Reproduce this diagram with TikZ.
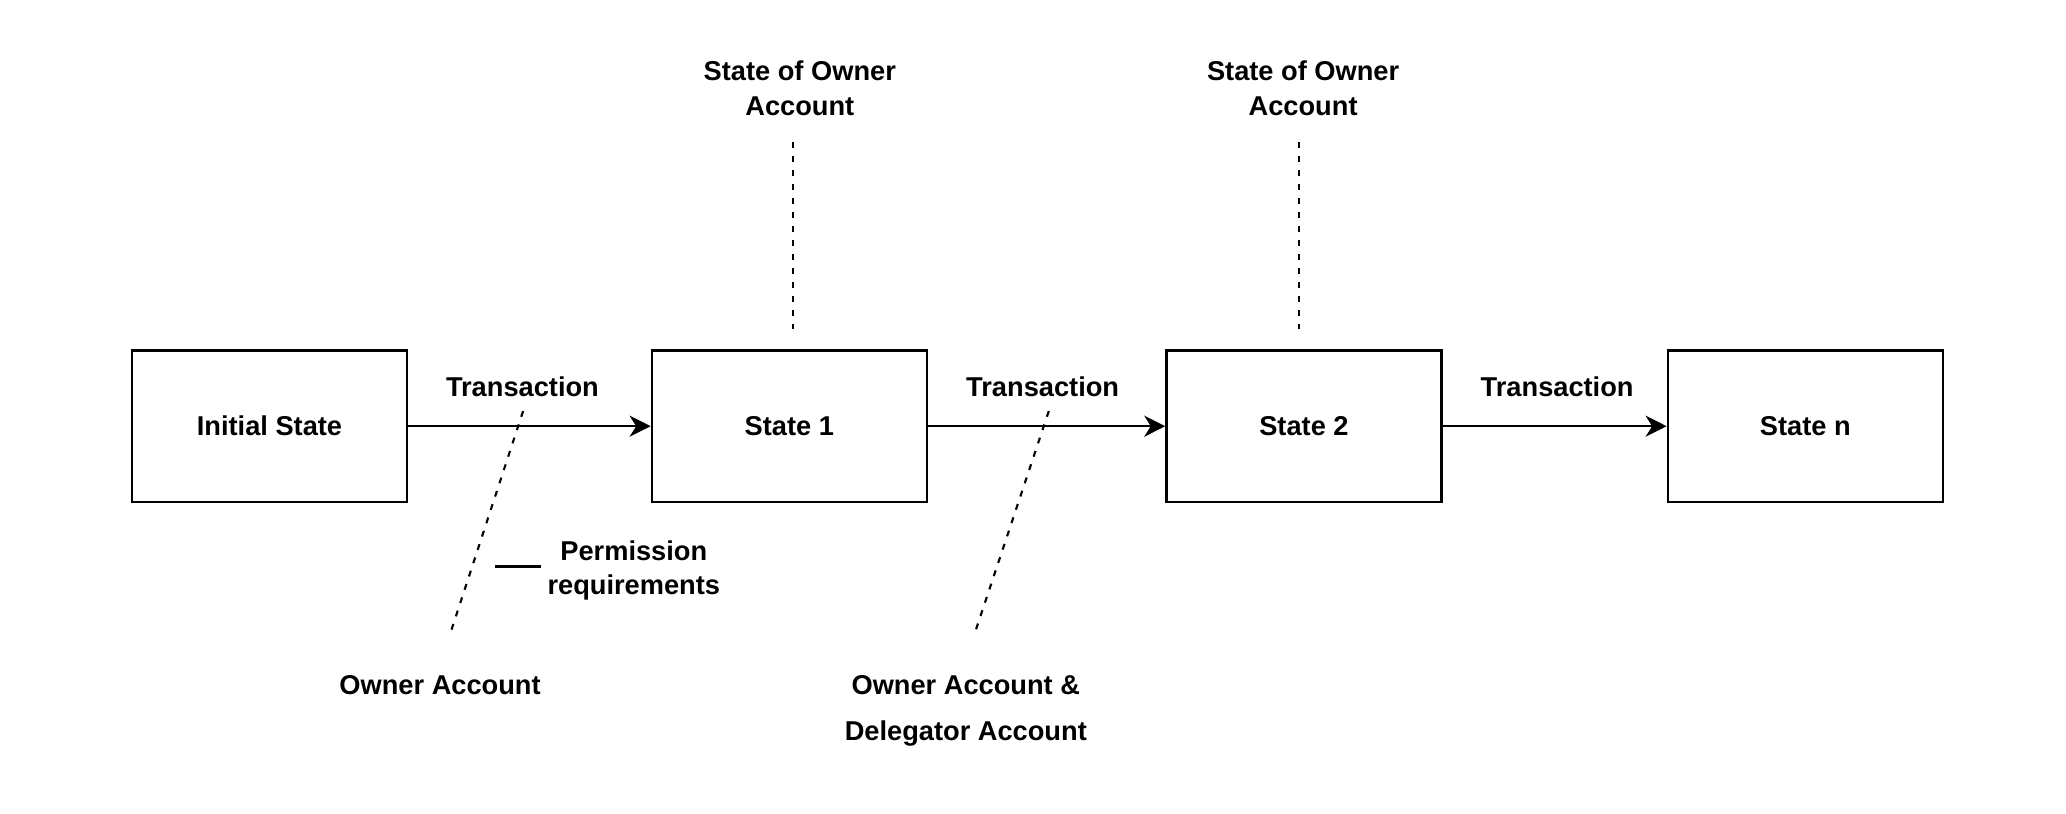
\documentclass[tikz,border=0pt]{standalone}
\usepackage{fontspec}
\setmainfont{Liberation Sans}
\usetikzlibrary{arrows.meta, positioning}

\begin{document}
\begin{tikzpicture}[x=0.02cm, y=-0.02cm, node distance=4.8cm,
         font=\fontsize{15.5}{19.5}\selectfont\bfseries,
         state node/.style={rectangle,draw,line width=1.4pt,minimum width=5.5cm,minimum height=3.03cm},
         note/.style={align=center},
         hint/.style={line width=1.2pt, dash pattern=on 0.12cm off 0.16cm}] % px-like units, y runs downwards

       \useasboundingbox (0,0) rectangle (2066,814);

       \node[state node] (init) at (269.5,426.2) {Initial State};
       \node[state node] (s1) [right=4.85cm of init] {State 1};
       \node[state node] (s2) [right=4.745cm of s1] {State 2};
       \node[state node] (sn) [right=4.48cm of s2] {State n};

       \foreach \s/\t/\dx in {init/s1/-0.14, s1/s2/-0.08, s2/sn/0.05} {
        \draw[line width=1.4pt, -{Stealth[length=0.42cm, width=0.42cm, inset=0.13cm]}] (\s) -- node[midway, xshift=\dx cm, yshift=0.79cm] {Transaction} (\t);}

       % owner state notes above the states
       \node[note] (own1) at (799.8,88.3) {State of Owner\\Account};
       \node[note] (own2) at (1303.1,88.3) {State of Owner\\Account};
       \coordinate (v1a) at (793.2,142.3);
       \coordinate (v1b) at (793.2,329.4);
       \coordinate (v2a) at (1299.2,142.3);
       \coordinate (v2b) at (1299.2,329.4);
       \draw[hint] (v1a) -- (v1b);
       \draw[hint] (v2a) -- (v2b);

       % signers below the transactions
       \node[note] (oa) at (440.1,685.5) {Owner Account};
       \node[note, font=\fontsize{15.5}{26.5}\selectfont\bfseries] (oda) at (965.8,711) {Owner Account \&\\Delegator Account};
       \coordinate (d1a) at (523.1,411.1);
       \coordinate (d1b) at (449.3,636.4);
       \coordinate (d2a) at (1048.8,411.1);
       \coordinate (d2b) at (973.7,636.4);
       \draw[hint] (d1a) -- (d1b);
       \draw[hint] (d2a) -- (d2b);

       \node[note] (perm) at (633.8,570.6) {Permission\\requirements};
       \coordinate (leg) at (495.4,566.6);
       \draw[line width=1.4pt] (leg) -- (leg -| perm.west);
      \end{tikzpicture}
\end{document}
